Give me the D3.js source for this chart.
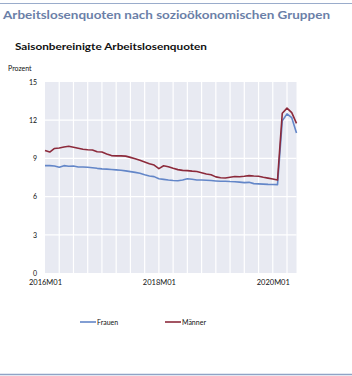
<!DOCTYPE html>
<html>
<head>
<meta charset="utf-8">
<script src="https://cdn.jsdelivr.net/npm/d3@7"></script>
<style>
  html, body { margin: 0; padding: 0; background: #fff; }
  svg { display: block; font-family: Lato, "Open Sans", sans-serif; }
</style>
</head>
<body>
<div id="chart"></div>
<script>
// monthly, 2016M01 .. 2020M06
const months = [];
for (let y = 2016; y <= 2020; y++) {
  for (let m = 1; m <= 12; m++) {
    if (y === 2020 && m > 6) break;
    months.push(y + "M" + (m < 10 ? "0" + m : m));
  }
}

const frauen = [
  8.43, 8.43, 8.40, 8.30, 8.43, 8.38, 8.40, 8.33, 8.33, 8.30, 8.27, 8.22,
  8.18, 8.16, 8.13, 8.10, 8.07, 8.02, 7.96, 7.90, 7.83, 7.72, 7.62, 7.57,
  7.40, 7.35, 7.30, 7.27, 7.25, 7.30, 7.40, 7.36, 7.30, 7.30, 7.28, 7.26,
  7.23, 7.20, 7.20, 7.18, 7.17, 7.14, 7.10, 7.12, 7.02, 7.00, 6.98, 6.96,
  6.95, 6.94, 11.95, 12.50, 12.20, 11.00
];

const maenner = [
  9.62, 9.50, 9.78, 9.82, 9.90, 9.95, 9.88, 9.80, 9.72, 9.68, 9.66, 9.52,
  9.50, 9.35, 9.22, 9.20, 9.20, 9.18, 9.08, 8.98, 8.85, 8.72, 8.58, 8.48,
  8.20, 8.42, 8.35, 8.22, 8.12, 8.06, 8.04, 8.00, 7.97, 7.88, 7.78, 7.72,
  7.55, 7.48, 7.46, 7.52, 7.58, 7.56, 7.60, 7.65, 7.62, 7.60, 7.52, 7.45,
  7.38, 7.30, 12.55, 12.95, 12.60, 11.75
];

const xTickLabels = ["2016M01", "2018M01", "2020M01"];
const yTicks = [0, 3, 6, 9, 12, 15];

const seriesNames = ["Frauen", "Männer"];
const seriesColors = ["#6386c8", "#8c2a3b"];

const width = 352;
const height = 376;
const margin = { top: 82, right: 55.5, bottom: 103, left: 45 };

const svg = d3.select("#chart")
  .append("svg")
  .attr("width", width)
  .attr("height", height);

// frame lines
svg.append("line")
  .attr("x1", 0).attr("x2", width)
  .attr("y1", 3.5).attr("y2", 3.5)
  .attr("stroke", "#9aaccb").attr("stroke-width", 1.2);

svg.append("line")
  .attr("x1", 0).attr("x2", width)
  .attr("y1", 374.5).attr("y2", 374.5)
  .attr("stroke", "#8fa3c6").attr("stroke-width", 1.5);

svg.append("text")
  .attr("x", 3)
  .attr("y", 19)
  .attr("fill", "#6b7fa8")
  .style("font-size", "11.5px")
  .style("font-weight", "700")
  .attr("textLength", 327)
  .attr("lengthAdjust", "spacingAndGlyphs")
  .text("Arbeitslosenquoten nach sozioökonomischen Gruppen");

svg.append("text")
  .attr("x", 15)
  .attr("y", 50)
  .attr("fill", "#111")
  .style("font-size", "10px")
  .style("font-weight", "700")
  .attr("textLength", 192)
  .attr("lengthAdjust", "spacingAndGlyphs")
  .text("Saisonbereinigte Arbeitslosenquoten");

svg.append("text")
  .attr("x", 8)
  .attr("y", 71)
  .attr("fill", "#111")
  .style("font-size", "7px")
  .text("Prozent");

const innerWidth = width - margin.left - margin.right;
const innerHeight = height - margin.top - margin.bottom;

const x = d3.scaleLinear()
  .domain([0, months.length - 1])
  .range([margin.left, margin.left + innerWidth]);

const y = d3.scaleLinear()
  .domain([0, 15])
  .range([margin.top + innerHeight, margin.top]);

svg.append("rect")
  .attr("x", x(0))
  .attr("y", y(15))
  .attr("width", x(months.length - 1) - x(0))
  .attr("height", y(0) - y(15))
  .attr("fill", "#e8eaf2");

// vertical grid every quarter
const gridIdx = d3.range(3, months.length, 3);
svg.append("g")
  .selectAll("line")
  .data(gridIdx)
  .join("line")
  .attr("x1", (d) => x(d)).attr("x2", (d) => x(d))
  .attr("y1", y(15)).attr("y2", y(0))
  .attr("stroke", "#fff").attr("stroke-width", 1.2);

svg.append("g")
  .selectAll("line")
  .data(yTicks.slice(1, -1))
  .join("line")
  .attr("x1", x(0)).attr("x2", x(months.length - 1))
  .attr("y1", (d) => y(d)).attr("y2", (d) => y(d))
  .attr("stroke", "#fff").attr("stroke-width", 1.2);

// y axis labels
const yAxis = d3.axisLeft(y).tickValues(yTicks).tickSize(0).tickPadding(8);
const gy = svg.append("g")
  .attr("transform", "translate(" + margin.left + ",0)")
  .call(yAxis);
gy.select(".domain").remove();
gy.selectAll("text")
  .attr("fill", "#111")
  .style("font-size", "7px")
  .style("font-family", "Lato, sans-serif");

// x axis labels
const xAxis = d3.axisBottom(x)
  .tickValues(xTickLabels.map((l) => months.indexOf(l)))
  .tickFormat((d) => months[d])
  .tickSize(0)
  .tickPadding(7);
const gx = svg.append("g")
  .attr("transform", "translate(0," + y(0) + ")")
  .call(xAxis);
gx.select(".domain").remove();
gx.selectAll("text")
  .attr("fill", "#111")
  .style("font-size", "7.5px")
  .style("font-family", "Lato, sans-serif");

const line = d3.line()
  .x((d, i) => x(i))
  .y((d) => y(d));

[frauen, maenner].forEach((s, i) => {
  svg.append("path")
    .datum(s)
    .attr("fill", "none")
    .attr("stroke", seriesColors[i])
    .attr("stroke-width", 1.6)
    .attr("stroke-linejoin", "round")
    .attr("d", line);
});

// legend
const legendX = [80, 165];
const legendY = 322;
seriesNames.forEach((name, i) => {
  const g = svg.append("g").attr("transform", "translate(" + legendX[i] + "," + legendY + ")");
  g.append("line")
    .attr("x1", 0).attr("x2", 16)
    .attr("stroke", seriesColors[i]).attr("stroke-width", 1.6);
  g.append("text")
    .attr("x", 17)
    .attr("y", 2.5)
    .attr("fill", "#111")
    .style("font-size", "7px")
    .text(name);
});
</script>
</body>
</html>
